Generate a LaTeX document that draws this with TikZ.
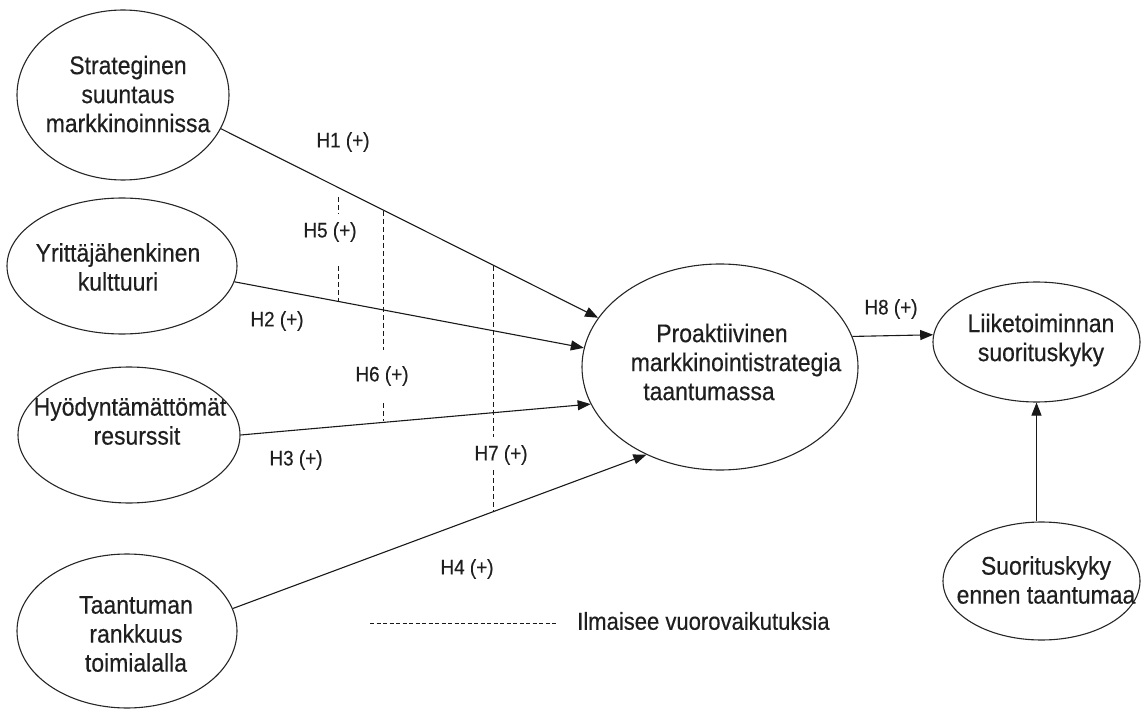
\documentclass[tikz,border=0pt]{standalone}
\usepackage{fontspec}
\setmainfont{Liberation Sans}
\newfontfamily\dgfont{Liberation Sans}[FakeStretch=0.9,FakeBold=0.4]
\usetikzlibrary{arrows.meta,shapes.geometric}
\begin{document}
\begin{tikzpicture}[x=1pt,y=-1pt,
  ell/.style={ellipse,draw=black!85,line width=1.1pt,inner sep=0pt},
  txt/.style={align=center,inner sep=0pt,font=\dgfont\fontsize{25.5}{29}\selectfont,text=black!88},
  hyp/.style={inner sep=0pt,font=\dgfont\fontsize{21}{24}\selectfont,text=black!88},
  arr/.style={draw=black!90,line width=1.1pt,-{Triangle[length=13pt,width=10pt]}},
  dsh/.style={draw=black!90,line width=1pt,dash pattern=on 5pt off 3pt},
  lgd/.style={draw=black!90,line width=0.9pt,dash pattern=on 4pt off 2.5pt}]
\useasboundingbox (0,0) rectangle (1141,711);

% ellipses
\node[ell,minimum width=212pt,minimum height=170pt] (e1) at (123,95) {};
\node[ell,minimum width=230pt,minimum height=136pt] (e2) at (122,266) {};
\node[ell,minimum width=222pt,minimum height=136pt] (e3) at (129,435) {};
\node[ell,minimum width=220pt,minimum height=154pt] (e4) at (127,631) {};
\node[ell,minimum width=276pt,minimum height=206pt] (pm) at (720,367) {};
\node[ell,minimum width=207pt,minimum height=120pt] (li) at (1036.5,342) {};
\node[ell,minimum width=197pt,minimum height=118pt] (su) at (1041.5,581) {};

% texts
\node[txt] (t1) at (128,94) {Strateginen\\suuntaus\\markkinoinnissa};
\node[txt] (t2) at (118,267) {Yrittäjähenkinen\\kulttuuri};
\node[txt] (t3) at (130,421) {Hyödyntämättömät\\\hspace*{14pt}resurssit};
\node[txt] (t4) at (136,634) {Taantuman\\rankkuus\\toimialalla};
\node[txt] (tp) at (736,362) {\hspace*{-28pt}Proaktiivinen\\markkinointistrategia\\\hspace*{-54pt}taantumassa};
\node[txt] (tl) at (1041,340) {Liiketoiminnan\\suorituskyky};
\node[txt] (ts) at (1046,580) {Suorituskyky\\ennen taantumaa};

% arrows
\draw[arr] (e1.-19.5) -- (pm.158.3);
\draw[arr] (e2.-8.3) -- (pm.172.6);
\draw[arr] (e3.0) -- (pm.-164.9);
\draw[arr] (e4.12.2) -- (pm.-130.4);
\draw[arr] (pm.13.5) -- (li.176);
\draw[arr] (su.north -| li.south) -- (li.south);

% dashed moderation lines
\coordinate (a1) at (338,197); \coordinate (a2) at (338,214);
\coordinate (a3) at (338,266); \coordinate (a4) at (338,302);
\coordinate (b1) at (383,211); \coordinate (b2) at (383,350);
\coordinate (b3) at (383,403); \coordinate (b4) at (383,421);
\coordinate (c1) at (493,266); \coordinate (c2) at (493,437);
\coordinate (c3) at (493,470); \coordinate (c4) at (493,511);
\draw[dsh] (a1) -- (a2);
\draw[dsh] (a3) -- (a4);
\draw[dsh] (b1) -- (b2);
\draw[dsh] (b3) -- (b4);
\draw[dsh] (c1) -- (c2);
\draw[dsh] (c3) -- (c4);

% hypothesis labels
\node[hyp] (h1) at (343,142) {H1 (+)};
\node[hyp] (h5) at (330,232) {H5 (+)};
\node[hyp] (h2) at (277,321) {H2 (+)};
\node[hyp] (h6) at (382,376) {H6 (+)};
\node[hyp] (h3) at (296,460) {H3 (+)};
\node[hyp] (h7) at (501,455) {H7 (+)};
\node[hyp] (h4) at (467,569) {H4 (+)};
\node[hyp] (h8) at (891,309) {H8 (+)};

% legend
\coordinate (l1) at (370,623); \coordinate (l2) at (558,623);
\draw[lgd] (l1) -- (l2);
\node[inner sep=0pt,anchor=west,font=\dgfont\fontsize{24.5}{28}\selectfont,text=black!88] (leg) at (577,621) {Ilmaisee vuorovaikutuksia};
\end{tikzpicture}
\end{document}
